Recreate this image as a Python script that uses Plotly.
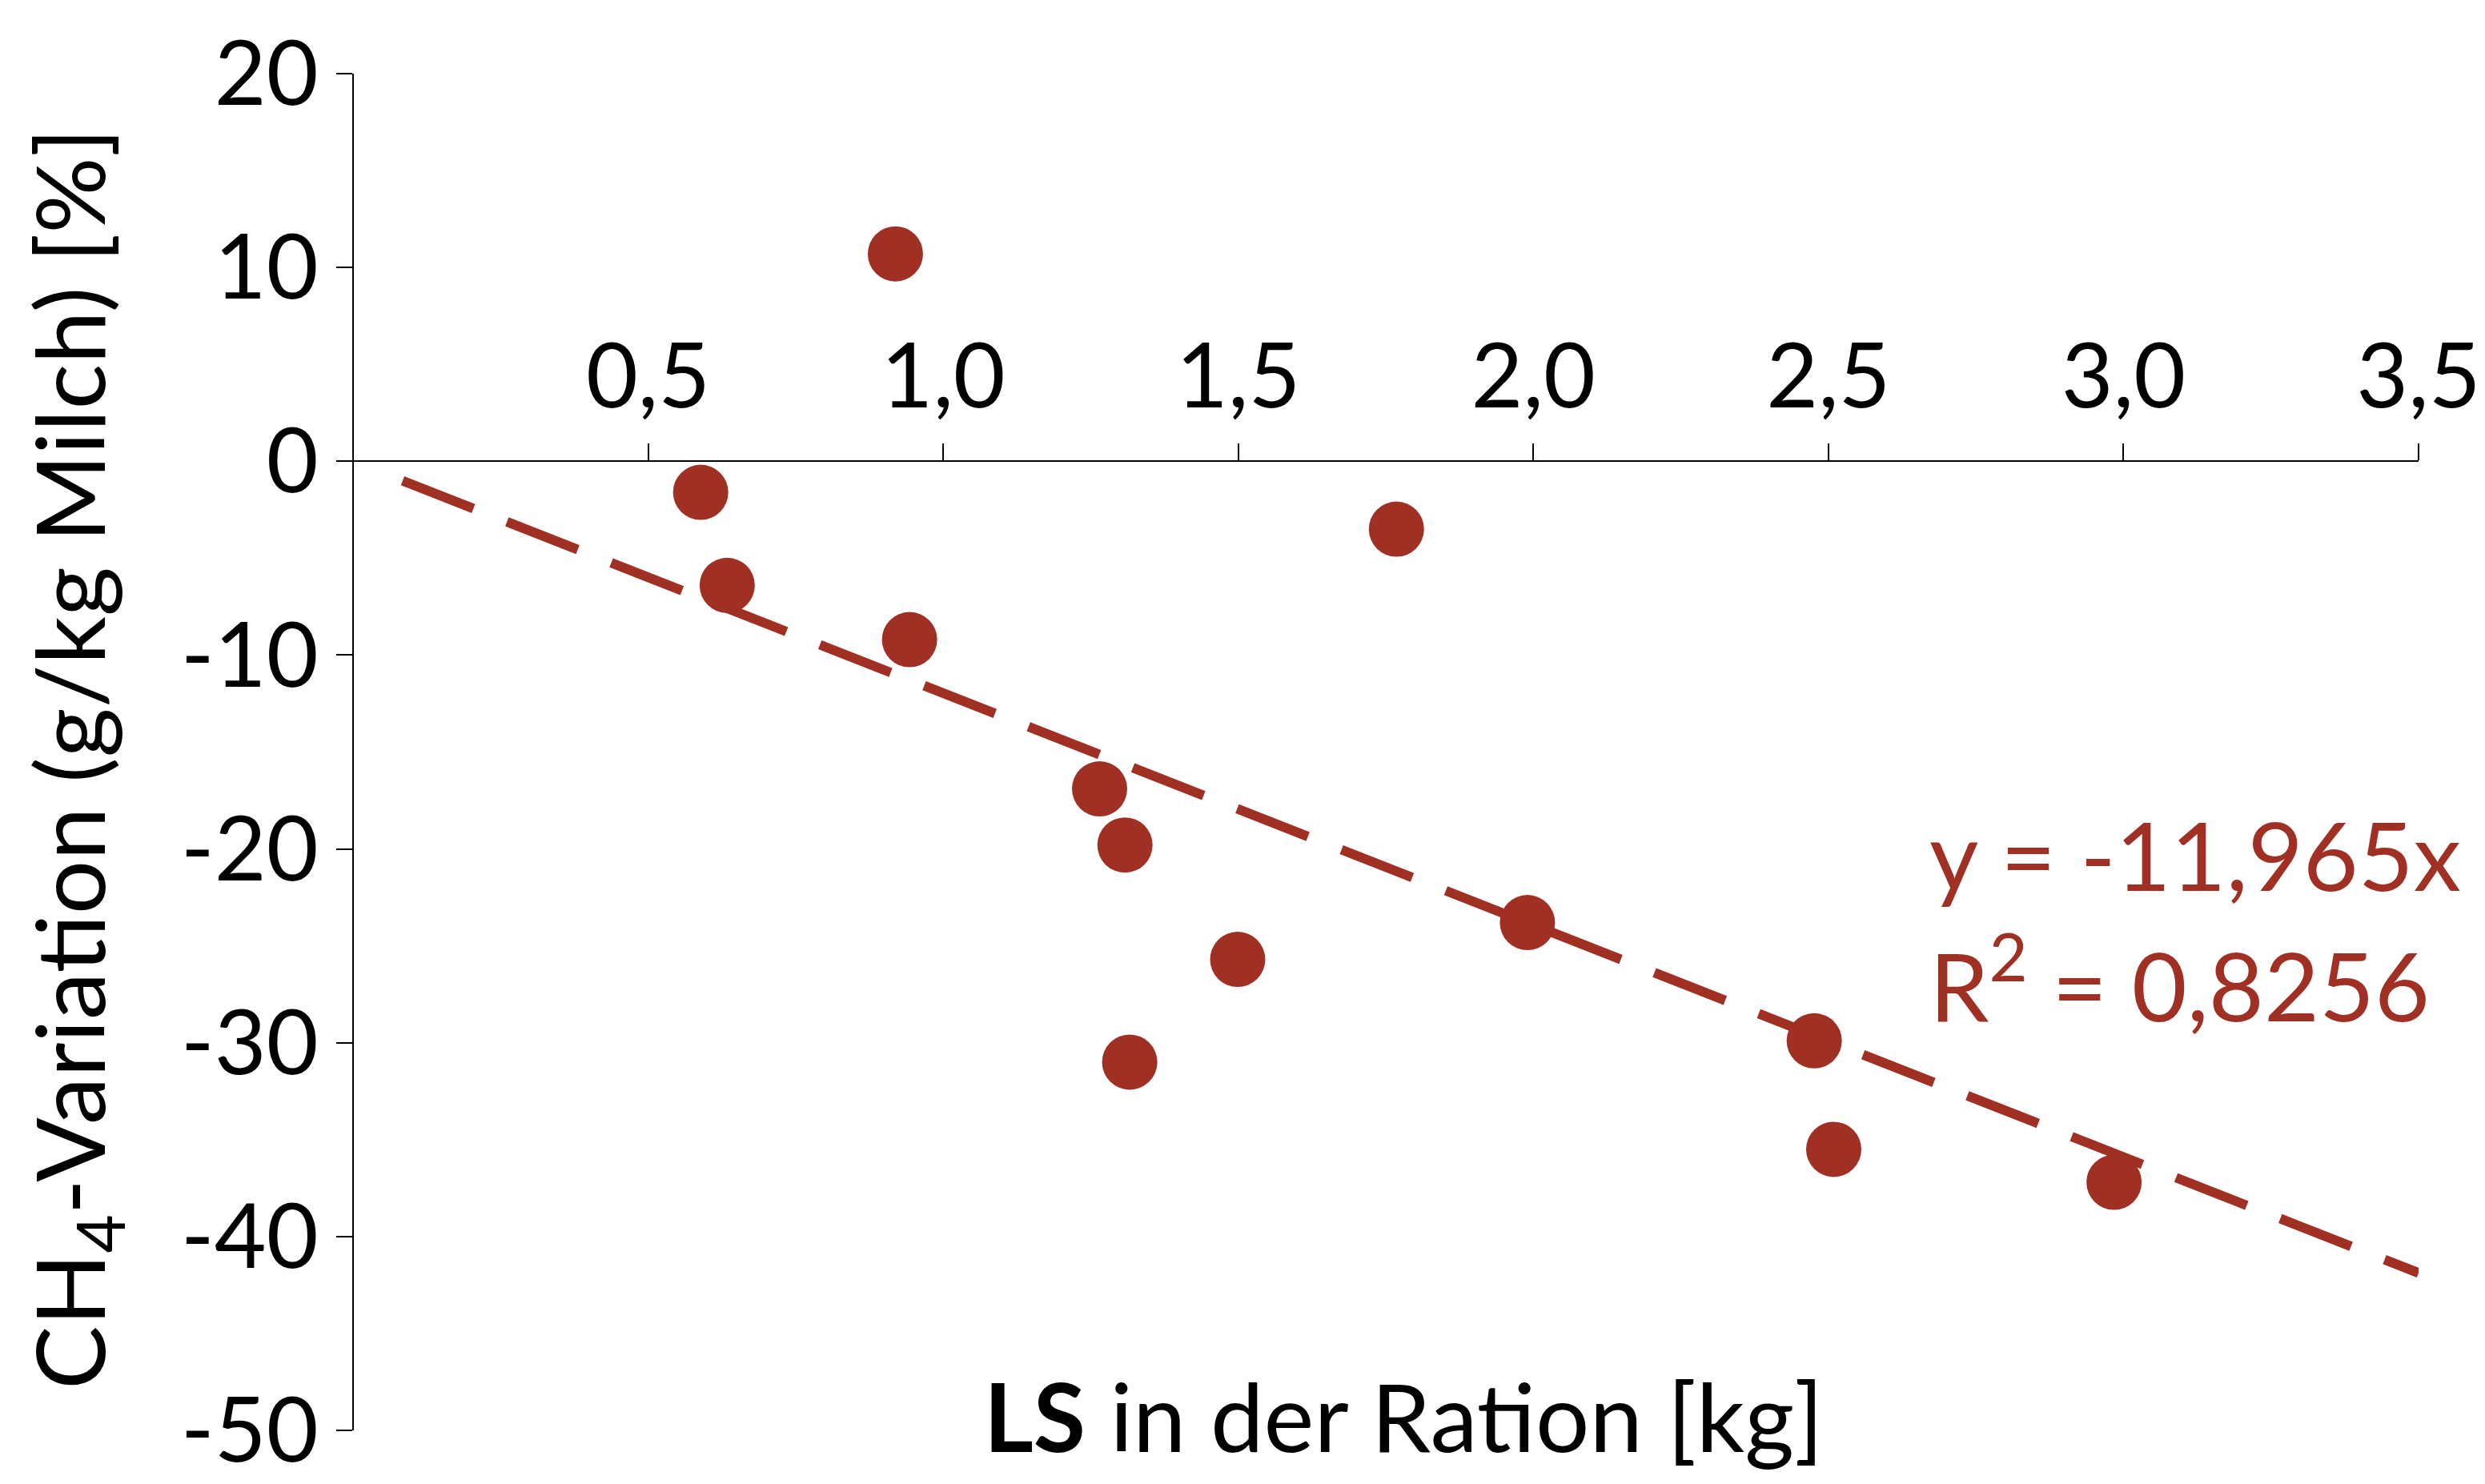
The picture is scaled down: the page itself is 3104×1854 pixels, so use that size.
import plotly.graph_objects as go

# Data
ls_kg = [0.589, 0.634, 0.919, 0.943, 1.265, 1.308, 1.316, 1.499, 1.768, 1.990, 2.476, 2.509, 2.984]
ch4_var = [-1.6, -6.4, 10.7, -9.2, -16.9, -19.8, -31.0, -25.7, -3.5, -23.8, -29.9, -35.5, -37.2]

slope = -11.965
trend_x = [0.084, 3.5]
trend_y = [slope * v for v in trend_x]

x_tickvals = [0.5, 1.0, 1.5, 2.0, 2.5, 3.0, 3.5]
x_ticktext = ["0,5", "1,0", "1,5", "2,0", "2,5", "3,0", "3,5"]
y_tickvals = [20, 10, 0, -10, -20, -30, -40, -50]
y_ticktext = ["20", "10", "0", "-10", "-20", "-30", "-40", "-50"]

RED = "#A03024"
FONT = "Lato"
FS = 112
FS_T = 119

fig = go.Figure()
fig.add_trace(go.Scatter(
    x=trend_x, y=trend_y, mode="lines",
    line=dict(color=RED, width=12, dash="95px,45px"),
    showlegend=False, hoverinfo="skip"))
fig.add_trace(go.Scatter(
    x=ls_kg, y=ch4_var, mode="markers",
    marker=dict(color=RED, size=69, line=dict(width=0)),
    showlegend=False))

fig.update_layout(
    width=3104, height=1854,
    margin=dict(l=433, r=91, t=75, b=56),
    paper_bgcolor="white", plot_bgcolor="white",
    font=dict(family=FONT, size=FS, color="black"),
    xaxis=dict(
        range=[0, 3.5], anchor="free", position=50/70, side="top",
        showline=True, linecolor="black", linewidth=2,
        ticks="outside", ticklen=21, tickwidth=2, tickcolor="black",
        tickvals=x_tickvals, ticktext=x_ticktext,
        showgrid=False, zeroline=False, ticklabeloverflow="allow",
        tickfont=dict(family=FONT, size=FS, color="black"),
    ),
    yaxis=dict(
        range=[-50, 20], anchor="free", position=0,
        showline=True, linecolor="black", linewidth=2,
        ticks="outside", ticklen=20, tickwidth=2, tickcolor="black",
        tickvals=y_tickvals, ticktext=y_ticktext,
        showgrid=False, zeroline=False, ticklabeloverflow="allow",
        tickfont=dict(family=FONT, size=FS, color="black"),
    ),
    annotations=[
        dict(text="CH<sub>4</sub>-Variation (g/kg Milch) [%]", textangle=-90,
             xref="paper", yref="paper", x=(86 - 433) / 2580, y=0.495,
             xanchor="center", yanchor="middle", showarrow=False,
             font=dict(family=FONT, size=FS_T, color="black")),
        dict(text="<b>LS</b> in der Ration [kg]",
             xref="paper", yref="paper", x=(1745 - 433) / 2580, y=0.011,
             xanchor="center", yanchor="middle", showarrow=False,
             font=dict(family=FONT, size=FS_T, color="black")),
        dict(text="y = -11,965x",
             xref="paper", yref="paper", x=(2400 - 433) / 2580, y=0.425,
             xanchor="left", yanchor="middle", showarrow=False,
             font=dict(family=FONT, size=FS_T, color=RED)),
        dict(text="R<sup>2</sup> = 0,8256",
             xref="paper", yref="paper", x=(2400 - 433) / 2580, y=0.333,
             xanchor="left", yanchor="middle", showarrow=False,
             font=dict(family=FONT, size=FS_T, color=RED)),
    ],
)

fig.write_html("out.html")
